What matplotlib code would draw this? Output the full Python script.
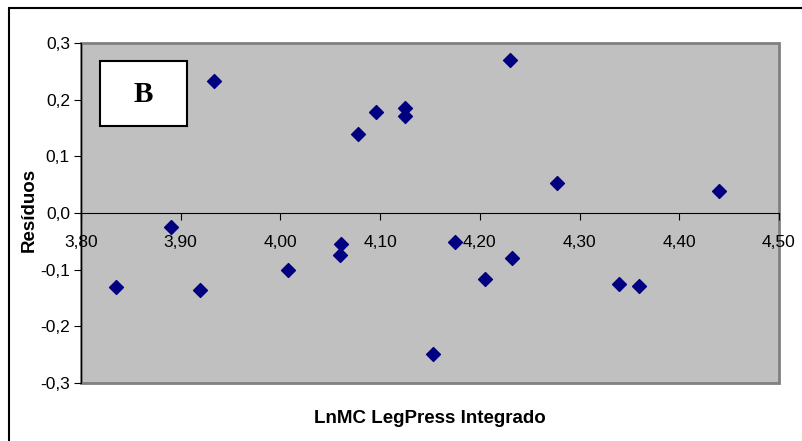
import matplotlib
matplotlib.use("Agg")
import matplotlib.pyplot as plt
from matplotlib.patches import Rectangle
from matplotlib.ticker import FuncFormatter

# Residuals vs. log of integrated leg-press maximum load
ln_mc = [3.835, 3.890, 3.919, 3.933, 4.008, 4.061, 4.060, 4.078, 4.096,
         4.125, 4.125, 4.230, 4.153, 4.175, 4.205, 4.232, 4.277, 4.340,
         4.360, 4.440]
residuos = [-0.130, -0.025, -0.136, 0.233, -0.100, -0.055, -0.074, 0.139, 0.178,
            0.185, 0.172, 0.270, -0.249, -0.052, -0.116, -0.080, 0.053, -0.125,
            -0.129, 0.039]

x_ticks = [3.80, 3.90, 4.00, 4.10, 4.20, 4.30, 4.40, 4.50]
y_ticks = [-0.3, -0.2, -0.1, 0.0, 0.1, 0.2, 0.3]

plt.rcParams['font.family'] = ['Liberation Sans', 'DejaVu Sans']

fig = plt.figure(figsize=(8.02, 4.41), dpi=100)
ax = fig.add_axes([81 / 802, 58 / 441, 698 / 802, 340 / 441])
ax.set_facecolor('#C0C0C0')

ax.scatter(ln_mc, residuos, marker='D', s=50, color='#000080', zorder=3)

ax.set_xlim(3.80, 4.50)
ax.set_ylim(-0.3, 0.3)
ax.set_xticks(x_ticks)
ax.set_yticks(y_ticks)
ax.xaxis.set_major_formatter(FuncFormatter(lambda v, p: f"{v:.2f}".replace('.', ',')))
ax.yaxis.set_major_formatter(FuncFormatter(lambda v, p: f"{v:.1f}".replace('.', ',')))

# x axis crosses at zero, plot frame in gray
ax.spines['bottom'].set_position(('data', 0))
ax.spines['bottom'].set_color('black')
ax.spines['left'].set_color('black')
ax.spines['top'].set_visible(False)
ax.spines['right'].set_visible(False)
ax.add_patch(Rectangle((0, 0), 1, 1, transform=ax.transAxes, fill=False,
                       edgecolor='#808080', lw=2, zorder=1, clip_on=False))

ax.tick_params(axis='x', direction='out', length=5, pad=11, labelsize=12.5, color='black')
ax.tick_params(axis='y', direction='out', length=5, pad=3, labelsize=12.5, color='black')

ax.set_xlabel('LnMC LegPress Integrado', fontsize=13.5, fontweight='bold')
ax.set_ylabel('Resíduos', fontsize=13.5, fontweight='bold')
ax.xaxis.set_label_coords(0.5, -0.079)
ax.yaxis.set_label_coords(-0.062, 0.51)

# panel tag box
ax.add_patch(Rectangle((0.027, 0.756), 0.125, 0.191, transform=ax.transAxes,
                       facecolor='white', edgecolor='black', lw=1.5, zorder=4))
ax.text(0.0895, 0.85, 'B', transform=ax.transAxes, ha='center', va='center',
        fontsize=21, fontweight='bold', family='Liberation Serif', zorder=5)

# chart area border
fig.add_artist(Rectangle((9 / 802, -0.1), 1.2, 1.1 - 8 / 441, transform=fig.transFigure,
                         fill=False, edgecolor='black', lw=1.5))

fig.savefig('out.png', dpi=100)
